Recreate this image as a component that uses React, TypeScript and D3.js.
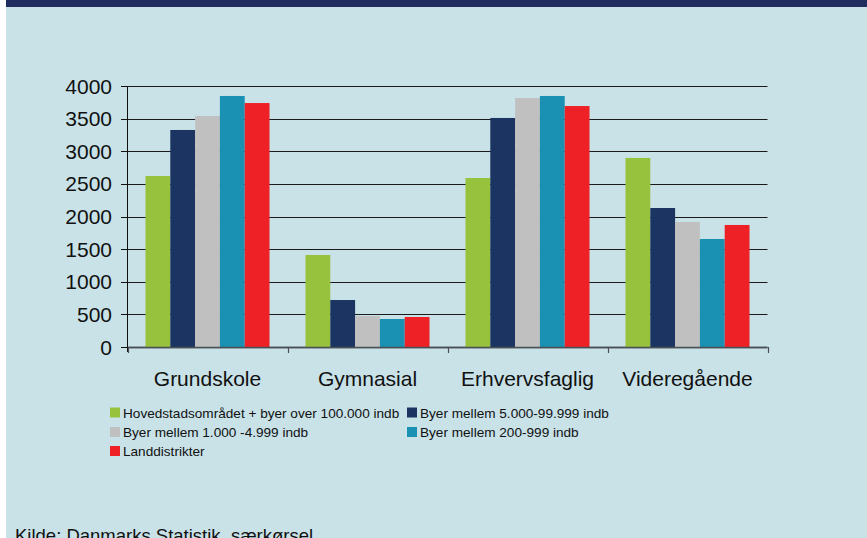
import React from "react";
import * as d3 from "d3";

const categories = ["Grundskole", "Gymnasial", "Erhvervsfaglig", "Videregående"];
const seriesNames = [
  "Hovedstadsområdet + byer over 100.000 indb",
  "Byer mellem 5.000-99.999 indb",
  "Byer mellem 1.000 -4.999 indb",
  "Byer mellem 200-999 indb",
  "Landdistrikter",
];
const seriesColors = ["#97C23D", "#1C3461", "#C0C0C0", "#1A91B2", "#EE2226"];
const hovedstad = [2620, 1410, 2590, 2897];
const byer5000 = [3326, 720, 3510, 2130];
const byer1000 = [3540, 475, 3816, 1916];
const byer200 = [3847, 429, 3847, 1655];
const land = [3739, 460, 3693, 1870];
const seriesValues = [hovedstad, byer5000, byer1000, byer200, land];
const yTicks = [0, 500, 1000, 1500, 2000, 2500, 3000, 3500, 4000];
const sourceText = "Kilde: Danmarks Statistik, særkørsel";

const W = 867;
const H = 538;
const FONT = "Liberation Sans, Arial, sans-serif";

export default function App() {
  const y = d3.scaleLinear().domain([0, 4000]).range([347, 86]);
  const x0 = d3.scaleBand<string>().domain(categories).range([127.5, 767.5]).padding(0);
  const x1 = d3
    .scaleBand<string>()
    .domain(seriesNames)
    .range([0, x0.bandwidth()])
    .paddingInner(0)
    .paddingOuter(0.725);

  const legendCols = [110, 407];
  const legendRows = [413, 432.5, 451.5];

  return (
    <svg
      width={W}
      height={H}
      style={{ position: "absolute", left: 0, top: 0, display: "block" }}
      fontFamily={FONT}
    >
      <rect x={0} y={0} width={W} height={H} fill="#ffffff" />
      <rect x={6} y={0} width={W - 6} height={H} fill="#C8E2E8" />
      <rect x={6} y={0} width={W - 6} height={7} fill="#202C5E" />

      {/* gridlines */}
      {yTicks.map((t) => (
        <line
          key={"g" + t}
          x1={127.5}
          x2={767.5}
          y1={Math.round(y(t)) + 0.5}
          y2={Math.round(y(t)) + 0.5}
          stroke={t === 0 ? "#4a4f55" : "#1a1a1a"}
          strokeWidth={t === 0 ? 1.6 : 1}
        />
      ))}

      {/* bars */}
      {categories.map((c, ci) => (
        <g key={c} transform={`translate(${x0(c)},0)`}>
          {seriesNames.map((s, si) => {
            const v = seriesValues[si][ci];
            return (
              <rect
                key={s}
                x={x1(s)}
                y={y(v)}
                width={x1.bandwidth()}
                height={y(0) - y(v)}
                fill={seriesColors[si]}
              />
            );
          })}
        </g>
      ))}

      {/* axis lines */}
      <line x1={127.5} x2={767.5} y1={347.5} y2={347.5} stroke="#4a4f55" strokeWidth={1.6} />
      <line x1={127.5} x2={127.5} y1={86} y2={352} stroke="#111" strokeWidth={1} />
      {yTicks.map((t) => (
        <line
          key={"yt" + t}
          x1={121}
          x2={127.5}
          y1={Math.round(y(t)) + 0.5}
          y2={Math.round(y(t)) + 0.5}
          stroke="#111"
          strokeWidth={1}
        />
      ))}
      {[...categories.map((c) => x0(c) as number), 767.5].map((xx, i) => (
        <line
          key={"xt" + i}
          x1={Math.round(xx) + 0.5}
          x2={Math.round(xx) + 0.5}
          y1={347}
          y2={353}
          stroke="#4a4f55"
          strokeWidth={1.2}
        />
      ))}

      {/* y tick labels */}
      {yTicks.map((t) => (
        <text
          key={"yl" + t}
          x={112}
          y={y(t)}
          dy="0.36em"
          textAnchor="end"
          fontSize={21}
          fill="#111"
        >
          {t}
        </text>
      ))}

      {/* category labels */}
      {categories.map((c) => (
        <text
          key={"cl" + c}
          x={(x0(c) as number) + x0.bandwidth() / 2}
          y={386}
          textAnchor="middle"
          fontSize={21}
          fill="#111"
        >
          {c}
        </text>
      ))}

      {/* legend */}
      {seriesNames.map((s, i) => {
        const cx = legendCols[i % 2];
        const cy = legendRows[Math.floor(i / 2)];
        return (
          <g key={"lg" + s}>
            <rect x={cx} y={cy - 5.5} width={10} height={10} fill={seriesColors[i]} />
            <text x={cx + 13} y={cy} dy="0.35em" fontSize={13.6} fill="#111">
              {s}
            </text>
          </g>
        );
      })}

      {/* source */}
      <text x={15} y={541.5} fontSize={18.5} fill="#111">
        {sourceText}
      </text>
    </svg>
  );
}
